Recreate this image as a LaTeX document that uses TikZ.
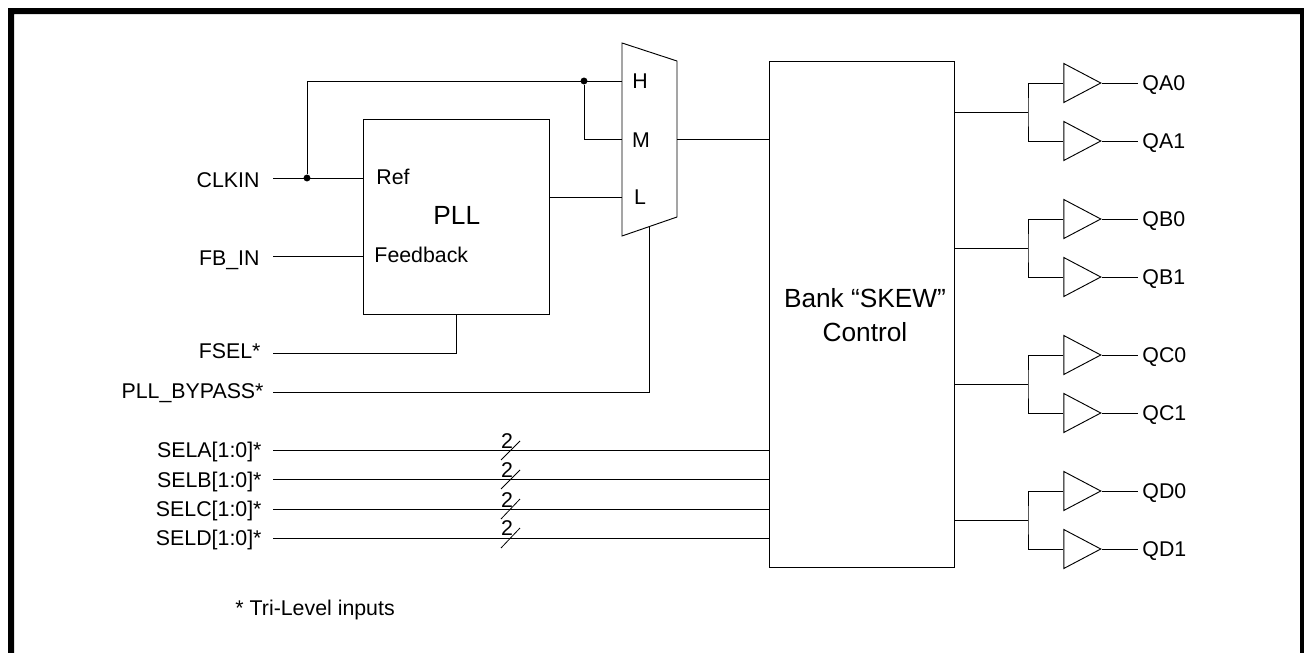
\documentclass[tikz,border=0pt]{standalone}
\usepackage{fontspec}
\setmainfont{Liberation Sans}
\usepackage{tikz}
\usetikzlibrary{positioning}
\usetikzlibrary{shapes.geometric}
\tikzset{
lbl/.style={
  inner sep=0pt,
  font=\fontsize{16}{18}\selectfont
  },
lblr/.style={
  lbl,
  anchor=base east
  },
lbll/.style={
  lbl,
  anchor=base west
  },
big/.style={
  inner sep=0pt,
  align=center,
  font=\fontsize{19.7}{25.5}\selectfont
  },
c/.style={
  circle,
  inner sep=0pt,
  minimum size=5.2pt,
  fill=black
  },
blockbox/.style={
  rectangle,
  draw=black,
  inner sep=0pt,
  anchor=north west
  },
buf/.style={
  isosceles triangle,
  isosceles triangle stretches,
  draw=black,
  inner sep=0pt,
  anchor=apex,
  minimum width=29.25pt,
  minimum height=27.75pt
  },
wire/.style={
  line width=0.7pt
  }
}
\begin{document}
\begin{tikzpicture}[x=0.75pt,y=-0.75pt,wire]
            \useasboundingbox (0,0) rectangle (1304,653);
            % frame
            \fill[black] (8,653) -- (8,8) -- (1304,8) -- (1304,653) -- (1300,653) -- (1300,14) -- (14,14) -- (14,653) -- cycle;

            % blocks
            \node[blockbox,minimum width=139.5pt,minimum height=146.25pt] (pll)  at (363,119) {};
            \node[blockbox,minimum width=139pt,minimum height=379.5pt]    (skew) at (769,61) {};
            \node[big,anchor=base west] at (433,224) (plltxt) {PLL};
            \node[big] at (865,315) (skewtxt) {Bank ``SKEW''\\Control};
            \node[lbll] (ref) at (376,184) {Ref};
            \node[lbll] (fbk) at (374,262) {Feedback};

            % mux
            \coordinate (mta) at (622,43);
            \coordinate (mtb) at (677,61);
            \coordinate (mtc) at (677,217);
            \coordinate (mtd) at (622,236);
            \draw (mta) -- (mtb) -- (mtc) -- (mtd) -- cycle;
            \node[lbl] (h) at (640,81)  {H};
            \node[lbl] (m) at (641,140) {M};
            \node[lbl] (l) at (640,197) {L};
            \coordinate (muxh) at (622,81);
            \coordinate (muxm) at (622,139);
            \coordinate (muxl) at (622,197);
            \coordinate (muxo) at (677,139);
            \coordinate (muxb) at (649,227);

            % inputs
            \node[lblr] (clkin) at (260,187) {CLKIN};
            \node[lblr] (fbin)  at (260,265) {FB\_IN};
            \node[lblr] (fsel)  at (261,358) {FSEL*};
            \node[lblr] (byp)   at (264,398) {PLL\_BYPASS*};
            \node[lblr] (sela)  at (262,457) {SELA[1:0]*};
            \node[lblr] (selb)  at (262,487) {SELB[1:0]*};
            \node[lblr] (selc)  at (262,516) {SELC[1:0]*};
            \node[lblr] (seld)  at (262,545) {SELD[1:0]*};
            \node[lbll] (tri)   at (235,615) {* Tri-Level inputs};

            \coordinate (clkw) at (273,178);
            \coordinate (fbw)  at (273,256);
            \coordinate (fsw)  at (273,353);
            \coordinate (byw)  at (273,392);
            \coordinate (saw)  at (273,450);
            \coordinate (sbw)  at (273,479);
            \coordinate (scw)  at (273,509);
            \coordinate (sdw)  at (273,538);
            \node[c] (d1) at (307,178) {};
            \node[c] (d2) at (584,81) {};
            \coordinate (up) at (307,81);

            \path
            (clkw) edge (pll.west |- clkw)
            (d1) edge (up)
            (up) edge (muxh)
            (fbw) edge (pll.west |- fbw)
            (pll.east |- muxl) edge (muxl)
            (muxo) edge (skew.west |- muxo)
            ;
            \draw (d2) |- (muxm);
            \draw (fsw) -| (pll.south);
            \draw (byw) -| (muxb);
            \path
            (saw) edge (skew.west |- saw)
            (sbw) edge (skew.west |- sbw)
            (scw) edge (skew.west |- scw)
            (sdw) edge (skew.west |- sdw)
            ;

            % bus marks
            \draw[line width=0.6pt] (501,460) -- (520,441);
            \draw[line width=0.6pt] (501,489) -- (520,470);
            \draw[line width=0.6pt] (501,519) -- (520,499);
            \draw[line width=0.6pt] (501,548) -- (520,528);
            \node[lbl] (n2a) at (507,441) {2};
            \node[lbl] (n2b) at (507,470) {2};
            \node[lbl] (n2c) at (507,500) {2};
            \node[lbl] (n2d) at (507,528) {2};

            % outputs
            \node[buf] (ba0) at (1102,83)  {};
            \node[buf] (ba1) at (1102,141) {};
            \node[buf] (bb0) at (1102,219) {};
            \node[buf] (bb1) at (1102,277) {};
            \node[buf] (bc0) at (1102,355) {};
            \node[buf] (bc1) at (1102,413) {};
            \node[buf] (bd0) at (1102,491) {};
            \node[buf] (bd1) at (1102,549) {};
            \coordinate (ea0) at (1138,83);
            \coordinate (ea1) at (1138,141);
            \coordinate (eb0) at (1138,219);
            \coordinate (eb1) at (1138,277);
            \coordinate (ec0) at (1138,355);
            \coordinate (ec1) at (1138,413);
            \coordinate (ed0) at (1138,491);
            \coordinate (ed1) at (1138,549);
            \node[lbl] (qa0) [right=3pt of ea0,yshift=-1.5pt] {QA0};
            \node[lbl] (qa1) [right=3pt of ea1,yshift=-1.5pt] {QA1};
            \node[lbl] (qb0) [right=3pt of eb0,yshift=-1.5pt] {QB0};
            \node[lbl] (qb1) [right=3pt of eb1,yshift=-1.5pt] {QB1};
            \node[lbl] (qc0) [right=3pt of ec0,yshift=-1.5pt] {QC0};
            \node[lbl] (qc1) [right=3pt of ec1,yshift=-1.5pt] {QC1};
            \node[lbl] (qd0) [right=3pt of ed0,yshift=-1.5pt] {QD0};
            \node[lbl] (qd1) [right=3pt of ed1,yshift=-1.5pt] {QD1};
            \path
            (ba0.apex) edge (ea0)
            (ba1.apex) edge (ea1)
            (bb0.apex) edge (eb0)
            (bb1.apex) edge (eb1)
            (bc0.apex) edge (ec0)
            (bc1.apex) edge (ec1)
            (bd0.apex) edge (ed0)
            (bd1.apex) edge (ed1)
            ;
            \coordinate (ja) at (1028,112);
            \coordinate (jb) at (1028,248);
            \coordinate (jc) at (1028,384);
            \coordinate (jd) at (1028,520);
            \path
            (skew.east |- ja) edge (ja)
            (skew.east |- jb) edge (jb)
            (skew.east |- jc) edge (jc)
            (skew.east |- jd) edge (jd)
            ;
            \draw (ba0.lower side) -| (ja) |- (ba1.lower side);
            \draw (bb0.lower side) -| (jb) |- (bb1.lower side);
            \draw (bc0.lower side) -| (jc) |- (bc1.lower side);
            \draw (bd0.lower side) -| (jd) |- (bd1.lower side);
        \end{tikzpicture}
\end{document}
